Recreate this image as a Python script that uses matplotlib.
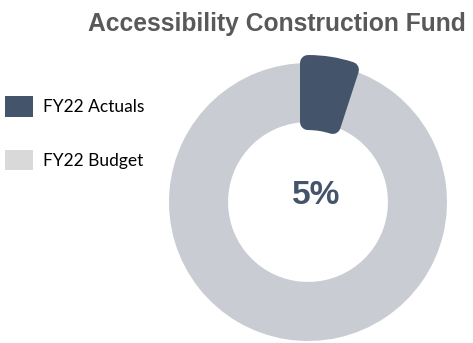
import matplotlib.pyplot as plt
from matplotlib.patches import Patch

# data
labels = ['FY22 Actuals', 'FY22 Budget']
shares = [5, 95]
colors = ['#44546A', '#C9CDD3']
legend_colors = ['#44546A', '#D9D9D9']
title = 'Accessibility Construction Fund'
center_label = '5%'

fig = plt.figure(figsize=(4.73, 3.43), dpi=100)
ax = fig.add_axes([0, 0, 1, 1])

cx, cy, r = 308, 141, 139
wedges, _ = ax.pie(shares, colors=colors, startangle=90, counterclock=False,
                   center=(cx, cy), radius=r, frame=True,
                   wedgeprops=dict(width=r * 0.425, linewidth=0))
# rounded, thicker highlight slice
wedges[0].set_edgecolor(colors[0])
wedges[0].set_linewidth(11.5)
wedges[0].set_joinstyle('round')
wedges[0].set_zorder(3)
ax.set_xlim(0, 473)
ax.set_ylim(0, 343)
ax.set_aspect('equal')
ax.axis('off')

ax.text(cx + 8, cy + 6, center_label, ha='center', va='center', fontsize=24,
        fontweight='bold', color=colors[0], family='Liberation Sans')
fig.text(0.985, 0.91, title, ha='right', va='baseline', fontsize=17.7,
         fontweight='bold', color='#595959', family='Liberation Sans')

handles = [Patch(facecolor=c, edgecolor='none') for c in legend_colors]
fig.legend(handles, labels, loc='upper left', bbox_to_anchor=(0.0, 0.735),
           frameon=False, prop=dict(family='Lato', size=12.5),
           handlelength=1.6, handleheight=1.45, labelspacing=1.9,
           handletextpad=0.55, borderaxespad=0, borderpad=0.3)

fig.savefig('out.png', dpi=100)
